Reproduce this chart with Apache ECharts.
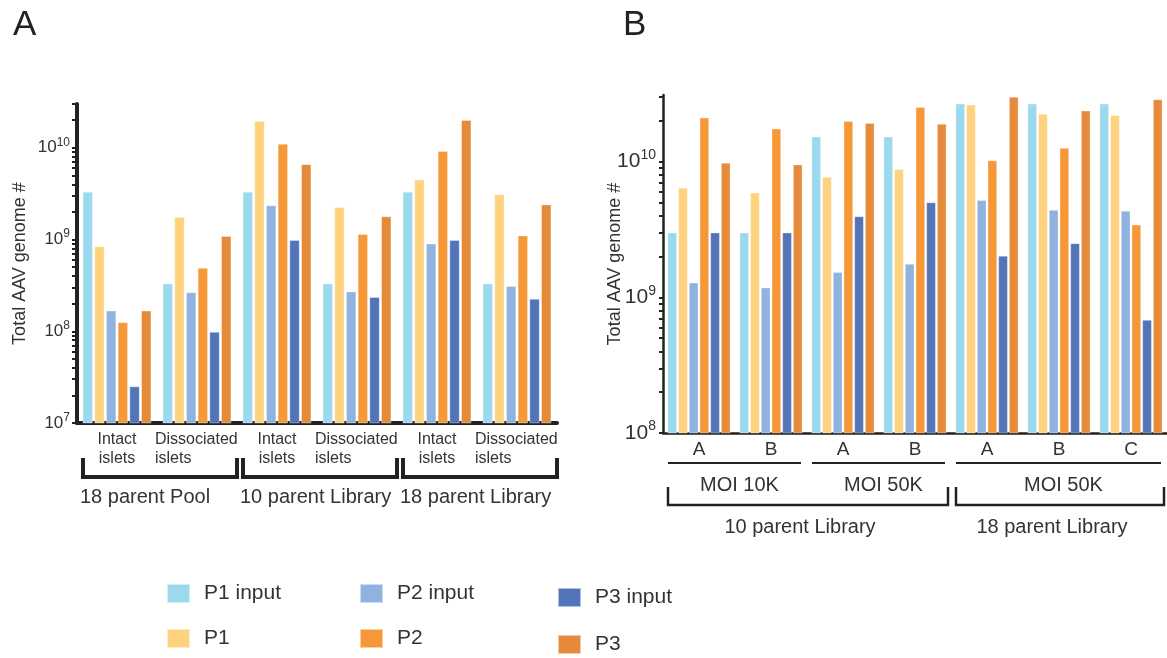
<!DOCTYPE html>
<html>
<head>
<meta charset="utf-8">
<script src="https://cdn.jsdelivr.net/npm/echarts@6/dist/echarts.min.js"></script>
<style>
  html, body { margin: 0; padding: 0; background: #fff; }
  #chart { width: 1167px; height: 658px; }
</style>
</head>
<body>
<div id="chart"></div>
<script>
// ---- series ----
const seriesNames = ['P1 input', 'P1', 'P2 input', 'P2', 'P3 input', 'P3'];
const seriesColors = ['#9BDAEE', '#FED37F', '#90B2DE', '#F69738', '#5274B8', '#E48A3A'];

// ---- panel A: islets ----
const catsA = ['Intact\nislets', 'Dissociated\nislets', 'Intact\nislets', 'Dissociated\nislets', 'Intact\nislets', 'Dissociated\nislets'];
const groupsA = ['18 parent Pool', '10 parent Library', '18 parent Library'];
const p1InputA = [3.3e9, 3.3e8, 3.3e9, 3.3e8, 3.3e9, 3.3e8];
const p1A      = [8.4e8, 1.75e9, 1.95e10, 2.25e9, 4.5e9, 3.1e9];
const p2InputA = [1.67e8, 2.65e8, 2.35e9, 2.7e8, 9.0e8, 3.1e8];
const p2A      = [1.25e8, 4.9e8, 1.1e10, 1.14e9, 9.2e9, 1.1e9];
const p3InputA = [2.5e7, 9.8e7, 9.8e8, 2.35e8, 9.8e8, 2.25e8];
const p3A      = [1.67e8, 1.09e9, 6.6e9, 1.78e9, 2.0e10, 2.4e9];
const ticksA   = [1e7, 1e8, 1e9, 1e10];

// ---- panel B: MOI ----
const catsB = ['A', 'B', 'A', 'B', 'A', 'B', 'C'];
const moiB  = ['MOI 10K', 'MOI 50K', 'MOI 50K'];
const libsB = ['10 parent Library', '18 parent Library'];
const p1InputB = [3.0e9, 3.0e9, 1.53e10, 1.53e10, 2.67e10, 2.67e10, 2.67e10];
const p1B      = [6.4e9, 5.9e9, 7.7e9, 8.8e9, 2.63e10, 2.25e10, 2.2e10];
const p2InputB = [1.28e9, 1.18e9, 1.53e9, 1.76e9, 5.2e9, 4.4e9, 4.33e9];
const p2B      = [2.11e10, 1.75e10, 1.99e10, 2.52e10, 1.02e10, 1.26e10, 3.43e9];
const p3InputB = [3.0e9, 3.0e9, 3.95e9, 5.0e9, 2.02e9, 2.5e9, 6.8e8];
const p3B      = [9.8e9, 9.5e9, 1.92e10, 1.9e10, 3.0e10, 2.37e10, 2.87e10];
const ticksB   = [1e8, 1e9, 1e10];

// index ranges of categories spanned by each bracket / underline
const spansA    = [[0, 1], [2, 3], [4, 5]];
const moiSpansB = [[0, 1], [2, 3], [4, 6]];
const libSpansB = [[0, 3], [4, 6]];

const FONT = '"Liberation Sans", Arial, Helvetica, sans-serif';
const INK = '#222';
const TXT = '#333';

const valuesA = [p1InputA, p1A, p2InputA, p2A, p3InputA, p3A];
const valuesB = [p1InputB, p1B, p2InputB, p2B, p3InputB, p3B];

// log ticks: 1..9 within each decade, up to the axis maximum
function logTicks(lo, hi) {
  const out = [];
  for (let d = lo; d <= hi; d *= 10) {
    for (let k = 1; k <= 9; k++) {
      const v = d * k;
      if (v <= hi * 1.0001) out.push(v);
    }
  }
  return out;
}

function powerLabel(v) {
  const e = Math.round(Math.log10(v));
  return '{b|10}{s|' + e + '}';
}

function yAxisFor(idx, lo, hi, labels, base, sup, axisW, tickW, tickLen, gap) {
  return {
    type: 'log', gridIndex: idx, logBase: 10, min: lo, max: hi,
    name: 'Total AAV genome #', nameLocation: 'middle', nameGap: gap,
    nameMoveOverlap: false,
    nameTextStyle: { fontSize: 18, color: TXT, fontFamily: FONT },
    axisLine: { show: true, lineStyle: { color: INK, width: axisW } },
    axisTick: { show: true, length: tickLen, customValues: logTicks(lo, hi), lineStyle: { color: INK, width: tickW } },
    minorTick: { show: false },
    splitLine: { show: false },
    axisLabel: {
      customValues: labels, margin: 7, color: TXT, fontFamily: FONT,
      formatter: powerLabel,
      rich: {
        b: { fontSize: base, fontFamily: FONT, color: TXT },
        s: { fontSize: sup, fontFamily: FONT, color: TXT, padding: [0, 0, Math.round(sup * 0.9), 0] }
      }
    }
  };
}

const series = [];
seriesNames.forEach((name, i) => {
  series.push({
    name, type: 'bar', xAxisIndex: 0, yAxisIndex: 0,
    data: valuesA[i], barWidth: 10, barGap: '17%',
    itemStyle: { color: seriesColors[i], borderColor: 'rgba(255,255,255,0.55)', borderWidth: 0.6 },
    emphasis: { disabled: true }
  });
});
seriesNames.forEach((name, i) => {
  series.push({
    name, type: 'bar', xAxisIndex: 1, yAxisIndex: 1,
    data: valuesB[i], barWidth: 9.3, barGap: '15%',
    itemStyle: { color: seriesColors[i], borderColor: 'rgba(255,255,255,0.55)', borderWidth: 0.6 },
    emphasis: { disabled: true }
  });
});

// one legend entry per slot: three columns of two rows
function legendItem(name, left, top) {
  return {
    data: [name], left, top, icon: 'rect', padding: 0,
    itemWidth: 23, itemHeight: 19, selectedMode: false,
    textStyle: { fontSize: 21, color: TXT, fontFamily: FONT, padding: [0, 0, 0, 9] }
  };
}

const option = {
  animation: false,
  backgroundColor: '#fff',
  textStyle: { fontFamily: FONT },
  title: [
    { text: 'A', left: 13, top: 8, padding: 0, textStyle: { fontSize: 35, fontWeight: 'normal', color: INK, fontFamily: FONT } },
    { text: 'B', left: 623, top: 8, padding: 0, textStyle: { fontSize: 35, fontWeight: 'normal', color: INK, fontFamily: FONT } }
  ],
  legend: [
    legendItem('P1 input', 166, 583),
    legendItem('P1', 166, 628),
    legendItem('P2 input', 359, 583),
    legendItem('P2', 359, 628),
    legendItem('P3 input', 557, 587),
    legendItem('P3', 557, 634)
  ],
  grid: [
    { left: 77, top: 104, width: 480, height: 319, outerBoundsMode: 'none' },
    { left: 663, top: 95, width: 504, height: 338, outerBoundsMode: 'none' }
  ],
  xAxis: [
    {
      type: 'category', gridIndex: 0, data: catsA,
      axisLine: { lineStyle: { color: INK, width: 4 } },
      axisTick: { show: false },
      axisLabel: {
        interval: 0, margin: 7, fontSize: 16, lineHeight: 19, color: TXT, fontFamily: FONT,
        formatter: v => v.startsWith('Dissociated')
          ? v.split('\n').map(s => '{d|' + s + '}').join('\n')
          : v,
        rich: { d: { width: 84, align: 'left', fontSize: 16, lineHeight: 19, color: TXT, fontFamily: FONT } }
      }
    },
    {
      type: 'category', gridIndex: 1, data: catsB,
      axisLine: { lineStyle: { color: INK, width: 2.5 } },
      axisTick: { show: false },
      axisLabel: { interval: 0, margin: 7, fontSize: 19, color: TXT, fontFamily: FONT }
    }
  ],
  yAxis: [
    yAxisFor(0, 1e7, 3e10, ticksA, 17, 12, 4, 2, 5, 48),
    yAxisFor(1, 1e8, 3.1e10, ticksB, 21, 14, 2.5, 2, 4, 39)
  ],
  series
};

const chart = echarts.init(document.getElementById('chart'), null, { renderer: 'canvas' });
chart.setOption(option);

// ---- brackets and grouping labels, placed from the category axes ----
function catX(axisIdx, i) {
  return chart.convertToPixel({ xAxisIndex: axisIdx }, i);
}
function bandWidth(axisIdx) {
  return catX(axisIdx, 1) - catX(axisIdx, 0);
}
function bracket(x0, x1, yTop, yBot, w) {
  return {
    type: 'polyline', silent: true,
    shape: { points: [[x0, yTop], [x0, yBot], [x1, yBot], [x1, yTop]] },
    style: { stroke: INK, lineWidth: w, fill: null, lineJoin: 'miter' }
  };
}
function label(text, x, y, size, align) {
  return {
    type: 'text', silent: true, x, y,
    style: { text, align: align || 'center', verticalAlign: 'middle', fontSize: size, fontFamily: FONT, fill: TXT }
  };
}

const graphics = [];

// panel A
const bwA = bandWidth(0);
const baseA = chart.convertToPixel({ yAxisIndex: 0 }, 1e7);
spansA.forEach(([a, b], k) => {
  const x0 = catX(0, a) - bwA / 2 + 6;
  const x1 = catX(0, b) + bwA / 2;
  graphics.push(bracket(x0, x1, baseA + 35, baseA + 54, 4));
  graphics.push(label(groupsA[k], x0 - 3, baseA + 74, 20, 'left'));
});

// panel B
const bwB = bandWidth(1);
const baseB = chart.convertToPixel({ yAxisIndex: 1 }, 1e8);
moiSpansB.forEach(([a, b], k) => {
  const x0 = catX(1, a) - bwB / 2 + 5;
  const x1 = catX(1, b) + bwB / 2 - 6;
  graphics.push({
    type: 'line', silent: true,
    shape: { x1: x0, y1: baseB + 30, x2: x1, y2: baseB + 30 },
    style: { stroke: INK, lineWidth: 2 }
  });
  graphics.push(label(moiB[k], (x0 + x1) / 2 + 5, baseB + 52, 20));
});
libSpansB.forEach(([a, b], k) => {
  const x0 = catX(1, a) - bwB / 2 + 5;
  const x1 = catX(1, b) + bwB / 2 - 3;
  graphics.push(bracket(x0, x1, baseB + 54, baseB + 72, 2.5));
  graphics.push(label(libsB[k], (x0 + x1) / 2 - 8, baseB + 94, 20));
});

chart.setOption({ graphic: graphics });
</script>
</body>
</html>
